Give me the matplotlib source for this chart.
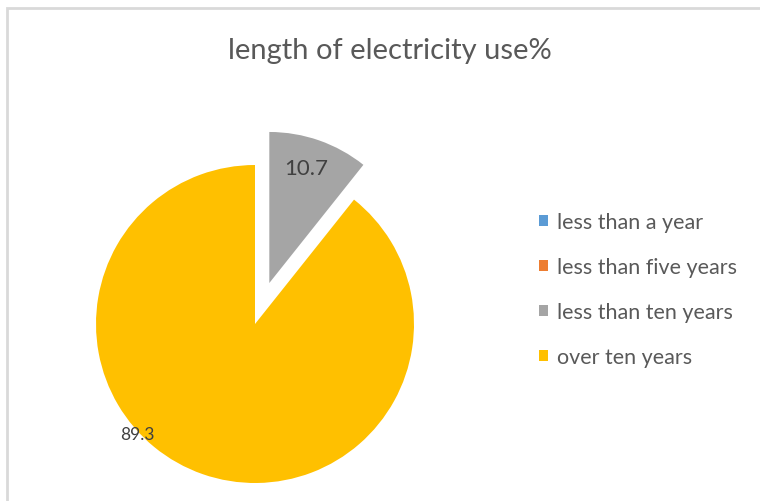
import matplotlib
matplotlib.use("Agg")
import matplotlib.pyplot as plt
from matplotlib.patches import Rectangle

categories = ["less than a year", "less than five years", "less than ten years", "over ten years"]
values = [0.0, 0.0, 10.7, 89.3]
colors = ["#5B9BD5", "#ED7D31", "#A5A5A5", "#FFC000"]
explode = [0, 0, 0.273, 0]
title = "length of electricity use%"

W, H = 760, 502
fig = plt.figure(figsize=(W / 100, H / 100), dpi=100)
plt.rcParams['font.family'] = ['Lato', 'DejaVu Sans']

# frame border (partially cropped, as in reference)
fig.patches.append(Rectangle((7 / W, -0.1), 1.2, (H - 9) / H + 0.1, transform=fig.transFigure,
                             fill=False, edgecolor="#d9d9d9", linewidth=2))

cx, cy, r = 255, 177, 159
ax = fig.add_axes([0, 0, 1, 1])
wedges, _ = ax.pie(values, colors=colors, explode=explode, startangle=90,
                   counterclock=False, radius=1, wedgeprops=dict(linewidth=0))
wedges[2].set_radius(0.95)
ax.set_xlim((0 - cx) / r, (W - cx) / r)
ax.set_ylim((0 - cy) / r, (H - cy) / r)
ax.set_aspect('equal', adjustable='datalim')
ax.axis('off')

# data labels
ax.text((306 - cx) / r, (H - 169 - cy) / r, f"{values[2]:.1f}", ha='center', va='center',
        fontsize=16, color="#404040")
ax.text((137 - cx) / r, (H - 435 - cy) / r, f"{values[3]:.1f}", ha='center', va='center',
        fontsize=12.5, color="#404040")

fig.text(390 / W, 1 - 51 / H, title, ha='center', va='center', fontsize=21,
         color="#595959")

leg = ax.legend(wedges, categories, loc='upper left', bbox_to_anchor=(539 / W, 1 - 213 / H),
                bbox_transform=fig.transFigure, frameon=False, fontsize=15.5,
                borderpad=0, borderaxespad=0,
                handlelength=0.42, handleheight=0.42, handletextpad=0.4, labelspacing=1.16,
                labelcolor="#595959")

fig.savefig("out.png", dpi=100)
